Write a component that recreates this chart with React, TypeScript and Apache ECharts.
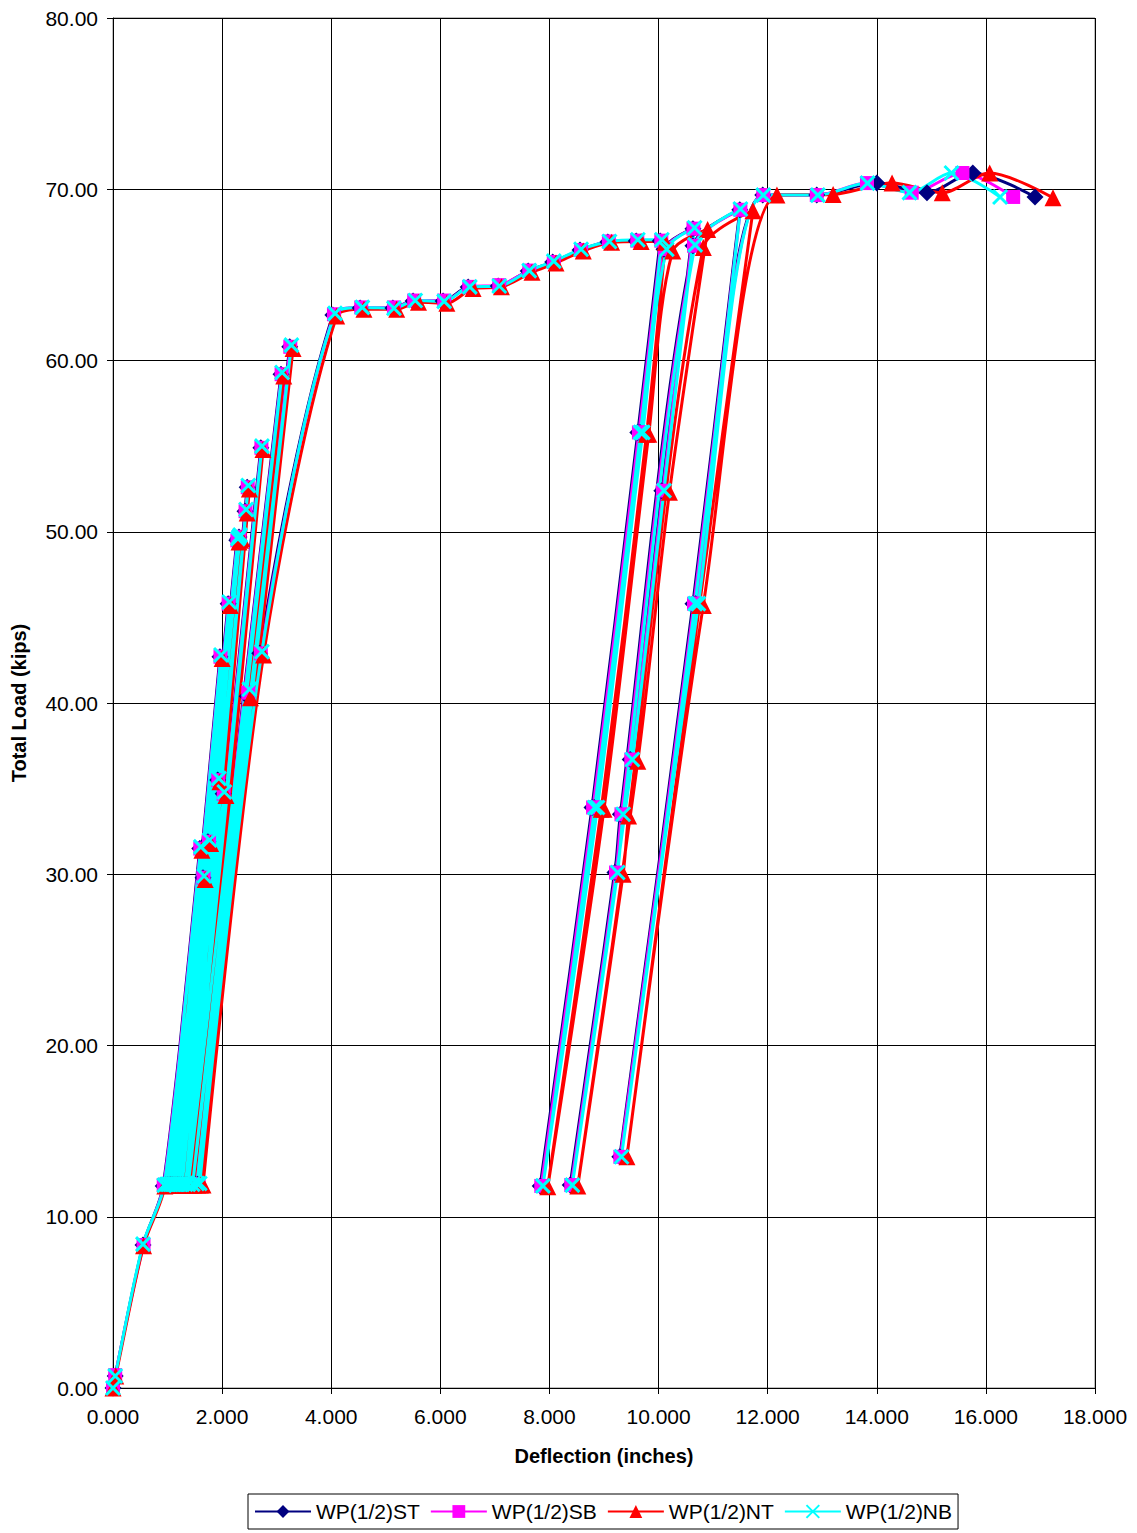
import React, { useEffect, useRef } from "react";
import * as echarts from "echarts";

const seriesNames = ["WP(1/2)ST", "WP(1/2)SB", "WP(1/2)NT", "WP(1/2)NB"];
const xTicks = { min: 0, max: 18, interval: 2 };
const yTicks = { min: 0, max: 80, interval: 10 };

const stData: [number, number][] = [
  [0, 0], [0.04, 0.7], [0.55, 8.35], [0.92, 11.8],
  [1.59, 31.5], [0.97, 11.85], [1.65, 29.8], [1.0, 11.85], [1.74, 31.9], [1.03, 11.85], [1.92, 35.5], [1.06, 11.85],
  [1.96, 42.7], [1.08, 11.85], [2.11, 45.8], [1.1, 11.85], [2.27, 49.5], [1.13, 11.85], [2.29, 49.6], [1.16, 11.85],
  [2.31, 49.7], [1.19, 11.85], [2.02, 34.7], [1.22, 11.85], [2.42, 51.2], [1.25, 11.85], [2.46, 52.6], [1.3, 11.85],
  [2.71, 54.9], [1.35, 11.85], [3.08, 59.2], [1.42, 11.85], [3.24, 60.8], [1.5, 11.9], [2.46, 40.4], [1.55, 11.9],
  [2.69, 42.9], [4.03, 62.66],
  [4.53, 63.07], [5.13, 63.07], [5.5, 63.48], [6.05, 63.48], [6.51, 64.29], [7.06, 64.35], [7.61, 65.23], [8.06, 65.75],
  [8.56, 66.45], [9.07, 66.92], [9.59, 66.98], [10.03, 66.98],
  [9.62, 55.8], [8.78, 33.9], [7.83, 11.8],
  [8.82, 33.9], [9.66, 55.8], [10.1, 66.5], [10.63, 67.7],
  [10.06, 52.4], [9.48, 36.7], [8.38, 11.85],
  [9.2, 30.1], [9.3, 33.5], [10.63, 66.7], [11.49, 68.8],
  [10.63, 45.8], [9.29, 13.5],
  [10.68, 45.8], [11.91, 69.66], [12.9, 69.66], [14.0, 70.36], [14.92, 69.8], [15.76, 70.95], [16.9, 69.55],
];

const sbData: [number, number][] = [
  [0, 0], [0.04, 0.75], [0.56, 8.35], [0.93, 11.85],
  [1.6, 31.5], [0.98, 11.9], [1.66, 29.8], [1.01, 11.9], [1.76, 31.9], [1.04, 11.9], [1.93, 35.5], [1.07, 11.9],
  [1.97, 42.7], [1.09, 11.9], [2.12, 45.8], [1.11, 11.9], [2.28, 49.5], [1.14, 11.9], [2.3, 49.6], [1.17, 11.9],
  [2.32, 49.7], [1.2, 11.9], [2.03, 34.7], [1.23, 11.9], [2.43, 51.2], [1.26, 11.9], [2.47, 52.6], [1.31, 11.9],
  [2.72, 54.9], [1.36, 11.9], [3.09, 59.2], [1.44, 11.9], [3.25, 60.8], [1.52, 11.9], [2.48, 40.6], [1.57, 11.9],
  [2.71, 42.9], [4.05, 62.7],
  [4.55, 63.1], [5.15, 63.1], [5.52, 63.5], [6.07, 63.5], [6.53, 64.3], [7.08, 64.4], [7.63, 65.25], [8.08, 65.75],
  [8.58, 66.45], [9.09, 66.95], [9.61, 67.0], [10.05, 67.0],
  [9.64, 55.8], [8.8, 33.9], [7.85, 11.8],
  [8.85, 33.9], [9.68, 55.8], [10.12, 66.5], [10.64, 67.7],
  [10.08, 52.4], [9.5, 36.7], [8.4, 11.85],
  [9.22, 30.1], [9.32, 33.5], [10.65, 66.7], [11.5, 68.8],
  [10.65, 45.8], [9.3, 13.5],
  [10.7, 45.8], [11.92, 69.66], [12.9, 69.66], [13.82, 70.36], [14.64, 69.8], [15.57, 70.95], [16.5, 69.55],
];

const ntData: [number, number][] = [
  [0, 0], [0.05, 0.7], [0.56, 8.3], [0.95, 11.8],
  [1.63, 31.4], [1.01, 11.85], [1.69, 29.7], [1.05, 11.85], [1.79, 31.8], [1.09, 11.85], [1.96, 35.4], [1.12, 11.85],
  [2.0, 42.6], [1.15, 11.85], [2.15, 45.7], [1.18, 11.85], [2.31, 49.4], [1.21, 11.85], [2.34, 49.5], [1.25, 11.85],
  [2.36, 49.6], [1.29, 11.85], [2.07, 34.6], [1.33, 11.85], [2.46, 51.1], [1.37, 11.85], [2.5, 52.5], [1.42, 11.85],
  [2.75, 54.8], [1.48, 11.85], [3.13, 59.1], [1.55, 11.85], [3.3, 60.7], [1.6, 11.85], [2.52, 40.3], [1.65, 11.85],
  [2.76, 42.8], [4.1, 62.6],
  [4.6, 63.0], [5.2, 63.0], [5.6, 63.4], [6.12, 63.35], [6.6, 64.2], [7.12, 64.3], [7.68, 65.15], [8.12, 65.7],
  [8.62, 66.4], [9.14, 66.9], [9.68, 66.95], [10.12, 66.9],
  [9.78, 55.7], [8.95, 33.8], [7.97, 11.75],
  [9.0, 33.8], [9.82, 55.7], [10.26, 66.4], [10.9, 67.65],
  [10.2, 52.3], [9.62, 36.6], [8.52, 11.8],
  [9.35, 30.0], [9.45, 33.4], [10.82, 66.6], [11.73, 68.75],
  [10.75, 45.7], [9.42, 13.5],
  [10.82, 45.7], [12.17, 69.66], [13.2, 69.7], [14.28, 70.36], [15.2, 69.8], [16.07, 70.95], [17.23, 69.5],
];

const nbData: [number, number][] = [
  [0, 0], [0.04, 0.7], [0.55, 8.4], [0.94, 11.85],
  [1.61, 31.6], [0.99, 11.9], [1.67, 29.9], [1.02, 11.9], [1.77, 32.0], [1.05, 11.9], [1.94, 35.6], [1.08, 11.9],
  [1.98, 42.8], [1.1, 11.9], [2.13, 45.9], [1.12, 11.9], [2.29, 49.6], [1.15, 11.9], [2.31, 49.7], [1.18, 11.9],
  [2.33, 49.8], [1.21, 11.9], [2.04, 34.8], [1.24, 11.9], [2.44, 51.3], [1.27, 11.9], [2.48, 52.7], [1.33, 11.9],
  [2.73, 55.0], [1.38, 11.9], [3.1, 59.3], [1.46, 11.9], [3.27, 60.9], [1.54, 11.95], [2.5, 40.8], [1.59, 11.95],
  [2.73, 43.0], [4.07, 62.75],
  [4.57, 63.1], [5.15, 63.05], [5.54, 63.5], [6.07, 63.45], [6.54, 64.3], [7.08, 64.35], [7.63, 65.25], [8.08, 65.8],
  [8.58, 66.5], [9.1, 66.95], [9.62, 67.05], [10.06, 67.05],
  [9.67, 55.8], [8.83, 33.9], [7.88, 11.8],
  [8.88, 33.9], [9.71, 55.8], [10.15, 66.5], [10.66, 67.75],
  [10.1, 52.4], [9.52, 36.7], [8.42, 11.85],
  [9.25, 30.1], [9.35, 33.5], [10.67, 66.75], [11.5, 68.85],
  [10.67, 45.8], [9.32, 13.5],
  [10.73, 45.8], [11.92, 69.66], [12.92, 69.66], [13.83, 70.36], [14.6, 69.8], [15.37, 70.95], [16.26, 69.55],
];

const FONT = "'Liberation Sans', Arial, sans-serif";
const X_PATH = "path://M0,0L10,10M10,0L0,10";

export default function App() {
  const ref = useRef<HTMLDivElement>(null);
  useEffect(() => {
    if (!ref.current) return;
    const chart = echarts.init(ref.current, null, { renderer: "svg" });
    const mk = (name: string, data: [number, number][], color: string, symbol: string, size: number, extra: any = {}) => ({
      name,
      type: "line",
      data,
      smooth: 0.3,
      symbol,
      symbolSize: size,
      showSymbol: true,
      lineStyle: { color, width: 3 },
      itemStyle: { color, ...extra },
      emphasis: { disabled: true },
    });
    chart.setOption({
      animation: false,
      backgroundColor: "#fff",
      grid: { left: 113, top: 18, right: 42, bottom: 145, show: true, borderColor: "#808080", borderWidth: 1 },
      legend: {
        left: 248,
        top: 1494,
        data: seriesNames,
        itemWidth: 56,
        itemHeight: 16,
        itemGap: 10,
        padding: [7, 6, 7, 6],
        borderColor: "#000",
        borderWidth: 1,
        textStyle: { fontFamily: FONT, fontSize: 21, color: "#000" },
      },
      xAxis: {
        type: "value",
        min: xTicks.min,
        max: xTicks.max,
        interval: xTicks.interval,
        name: "Deflection (inches)",
        nameLocation: "middle",
        nameGap: 58,
        nameTextStyle: { fontFamily: FONT, fontSize: 20, fontWeight: "bold", color: "#000" },
        axisLine: { lineStyle: { color: "#000", width: 1 } },
        axisTick: { show: true, length: 6, lineStyle: { color: "#000" } },
        axisLabel: { formatter: (v: number) => v.toFixed(3), fontFamily: FONT, fontSize: 21, color: "#000", margin: 18 },
        splitLine: { show: true, lineStyle: { color: "#000", width: 1 } },
      },
      yAxis: {
        type: "value",
        min: yTicks.min,
        max: yTicks.max,
        interval: yTicks.interval,
        name: "Total Load (kips)",
        nameLocation: "middle",
        nameGap: 84,
        nameTextStyle: { fontFamily: FONT, fontSize: 20, fontWeight: "bold", color: "#000" },
        axisLine: { show: true, lineStyle: { color: "#000", width: 1 } },
        axisTick: { show: true, length: 6, lineStyle: { color: "#000" } },
        axisLabel: { formatter: (v: number) => v.toFixed(2), fontFamily: FONT, fontSize: 21, color: "#000", margin: 15 },
        splitLine: { show: true, lineStyle: { color: "#000", width: 1 } },
      },
      series: [
        mk(seriesNames[0], stData, "#000080", "diamond", 17),
        mk(seriesNames[1], sbData, "#FF00FF", "rect", 14),
        mk(seriesNames[2], ntData, "#FF0000", "triangle", 17),
        mk(seriesNames[3], nbData, "#00FFFF", X_PATH, 14, { borderColor: "#00FFFF", borderWidth: 3, color: "none" }),
      ],
    });
    return () => chart.dispose();
  }, []);
  return <div ref={ref} style={{ position: "absolute", left: 0, top: 0, width: 1137, height: 1533 }} />;
}
